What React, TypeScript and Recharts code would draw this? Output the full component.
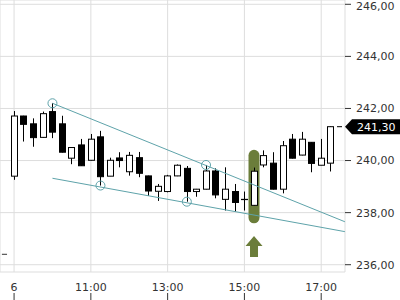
import React from 'react';
import {
  ComposedChart, Bar, XAxis, YAxis, CartesianGrid, ReferenceLine, ReferenceDot
} from 'recharts';

// 15 minute candles, 09:00 .. 17:15
const times = [
  '09:00', '09:15', '09:30', '09:45', '10:00', '10:15', '10:30', '10:45',
  '11:00', '11:15', '11:30', '11:45', '12:00', '12:15', '12:30', '12:45',
  '13:00', '13:15', '13:30', '13:45', '14:00', '14:15', '14:30', '14:45',
  '15:00', '15:15', '15:30', '15:45', '16:00', '16:15', '16:30', '16:45',
  '17:00', '17:15'
];
const opens = [
  239.40, 241.71, 241.41, 240.89, 241.88, 241.41, 240.09, 240.60,
  240.01, 240.91, 239.40, 240.10, 239.57, 240.11, 239.41, 238.82,
  238.81, 239.41, 239.70, 238.81, 238.90, 239.60, 238.51, 238.81,
  238.50, 238.28, 239.83, 239.90, 238.90, 240.82, 240.21, 240.70,
  239.82, 239.90
];
const highs = [
  241.90, 241.72, 241.62, 241.88, 242.20, 241.72, 240.52, 240.83,
  241.02, 241.14, 240.11, 240.32, 240.33, 240.33, 239.42, 239.10,
  239.45, 239.85, 239.79, 238.91, 239.83, 239.70, 239.74, 239.10,
  238.81, 239.73, 240.39, 240.32, 240.75, 241.02, 241.10, 240.71,
  240.83, 241.31
];
const lows = [
  239.26, 240.73, 240.53, 240.88, 240.86, 240.31, 239.86, 239.79,
  240.00, 239.04, 239.40, 239.74, 239.42, 239.36, 238.64, 238.45,
  238.78, 239.40, 238.42, 238.61, 238.89, 238.55, 238.08, 238.04,
  238.08, 238.26, 239.74, 238.89, 238.74, 240.08, 240.20, 239.55,
  239.82, 239.58
];
const closes = [
  241.71, 241.39, 240.88, 241.80, 241.09, 240.32, 240.50, 239.80,
  240.82, 239.38, 240.01, 240.00, 240.20, 239.51, 238.83, 239.01,
  239.41, 239.82, 238.81, 238.90, 239.60, 238.68, 238.90, 238.39,
  238.51, 239.59, 240.19, 238.90, 240.57, 240.09, 240.82, 239.89,
  240.09, 241.30
];

const xTicks = ['09:00', '11:00', '13:00', '15:00', '17:00'];
const xTickLabels = ['6', '11:00', '13:00', '15:00', '17:00'];
const priceTicks = [236, 238, 240, 242, 244, 246];
const lastPrice = 241.30;

const upperTrend = [{ time: '10:00', price: 242.20 }, { time: '17:37', price: 237.65 }];
const lowerTrend = [{ time: '10:00', price: 239.32 }, { time: '17:37', price: 237.27 }];
const touchPoints = [
  { time: '10:00', price: 242.20 },
  { time: '11:15', price: 239.04 },
  { time: '13:30', price: 238.42 },
  { time: '14:00', price: 239.83 }
];
const signal = { time: '15:15', top: 240.20, bottom: 237.80, arrow: 236.70 };
const leftMark = { from: '08:41', to: '08:49', price: 236.40 };

const toMin = (s: string) => {
  const [h, m] = s.split(':').map(Number);
  return (h - 9) * 60 + m;
};

const data = times.map((t, i) => ({
  t: toMin(t),
  open: opens[i],
  high: highs[i],
  low: lows[i],
  close: closes[i]
}));

const TEAL = '#5ea3aa';
const OLIVE = '#6b7d3a';
const TEXT = '#333';
const FONT = 'DejaVu Sans';

const Candle = (props: any) => {
  const { x, y, width, height, payload } = props;
  const { open, close, high, low } = payload;
  const top = Math.min(y, y + height);
  const span = Math.abs(height);
  const k = span / (high - low);
  const py = (v: number) => top + (high - v) * k;
  const cx = Math.round(x + width / 2) + 0.5;
  const up = close >= open;
  const bTop = py(Math.max(open, close));
  const bBot = py(Math.min(open, close));
  return (
    <g>
      <line x1={cx} x2={cx} y1={top} y2={top + span} stroke="#000" />
      <rect x={cx - 3} y={bTop} width={6} height={Math.max(bBot - bTop, 0.1)}
        fill={up ? '#fff' : '#000'} stroke="#000" />
    </g>
  );
};

const TimeTick = (props: any) => {
  const { x, payload } = props;
  const idx = xTicks.map(toMin).indexOf(payload.value);
  return (
    <g>
      <text x={x} y={291} textAnchor="middle" fill={TEXT} fontSize={11} fontFamily={FONT}>
        {xTickLabels[idx]}
      </text>
      <line x1={x} x2={x} y1={293} y2={300} stroke={TEXT} />
    </g>
  );
};

const Arrow = (props: any) => {
  const { cx, cy } = props;
  const pts = [
    [cx, cy - 10.5], [cx + 8.5, cy - 0.5], [cx + 4, cy - 0.5], [cx + 4, cy + 10.5],
    [cx - 4, cy + 10.5], [cx - 4, cy - 0.5], [cx - 8.5, cy - 0.5]
  ].map(p => p.join(',')).join(' ');
  return <polygon points={pts} fill={OLIVE} />;
};

const PriceTag = (props: any) => {
  const { cx, cy } = props;
  const pts = [
    [cx, cy], [cx + 7, cy - 7.5], [cx + 60, cy - 7.5], [cx + 60, cy + 7.5], [cx + 7, cy + 7.5]
  ].map(p => p.join(',')).join(' ');
  return (
    <g>
      <line x1={cx - 8} x2={cx - 3} y1={cy} y2={cy} stroke="#000" />
      <polygon points={pts} fill="#000" />
      <text x={cx + 12} y={cy + 4} fill="#fff" fontSize={11} fontFamily={FONT}>
        {lastPrice.toFixed(2).replace('.', ',')}
      </text>
    </g>
  );
};

const Circle = (props: any) => (
  <circle cx={props.cx} cy={props.cy} r={4.5} fill="none" stroke={TEAL} strokeWidth={1} />
);

export default function App() {
  return (
    <div style={{ position: 'absolute', left: 0, top: 0, background: '#fff' }}>
      <ComposedChart width={400} height={300} data={data}
        margin={{ top: 0, right: 0, bottom: 0, left: 0 }}>
        <CartesianGrid stroke="#dddddd" />
        <XAxis dataKey="t" type="number" domain={[-22, 517.2]} allowDataOverflow
          ticks={xTicks.map(toMin)} tick={<TimeTick />} height={28}
          axisLine={false} tickLine={false} interval={0} />
        <YAxis orientation="right" domain={[235.72, 246.165]} allowDataOverflow
          ticks={priceTicks} width={55} tickSize={6} tickMargin={5}
          axisLine={false} tickLine={{ stroke: TEXT }}
          tick={{ fill: TEXT, fontSize: 11, fontFamily: FONT }}
          tickFormatter={(v: number) => v.toFixed(2).replace('.', ',')} />
        <ReferenceLine ifOverflow="visible" stroke={OLIVE} strokeWidth={11} strokeLinecap="round"
          zIndex={250}
          segment={[{ x: toMin(signal.time), y: signal.top }, { x: toMin(signal.time), y: signal.bottom }]} />
        <ReferenceLine ifOverflow="visible" stroke={TEXT} zIndex={250}
          segment={[{ x: toMin(leftMark.from), y: leftMark.price }, { x: toMin(leftMark.to), y: leftMark.price }]} />
        <Bar dataKey={(d: any) => [d.low, d.high]} barSize={7} shape={<Candle />}
          isAnimationActive={false} zIndex={300} />
        <ReferenceLine ifOverflow="visible" stroke={TEAL} zIndex={450}
          segment={upperTrend.map(p => ({ x: toMin(p.time), y: p.price }))} />
        <ReferenceLine ifOverflow="visible" stroke={TEAL} zIndex={450}
          segment={lowerTrend.map(p => ({ x: toMin(p.time), y: p.price }))} />
        {touchPoints.map(p => (
          <ReferenceDot key={p.time} x={toMin(p.time)} y={p.price} ifOverflow="visible"
            zIndex={600} shape={<Circle />} />
        ))}
        <ReferenceDot x={toMin(signal.time)} y={signal.arrow} ifOverflow="visible" shape={<Arrow />} />
        <ReferenceDot x={517.2} y={lastPrice} ifOverflow="visible" shape={<PriceTag />} />
      </ComposedChart>
    </div>
  );
}
